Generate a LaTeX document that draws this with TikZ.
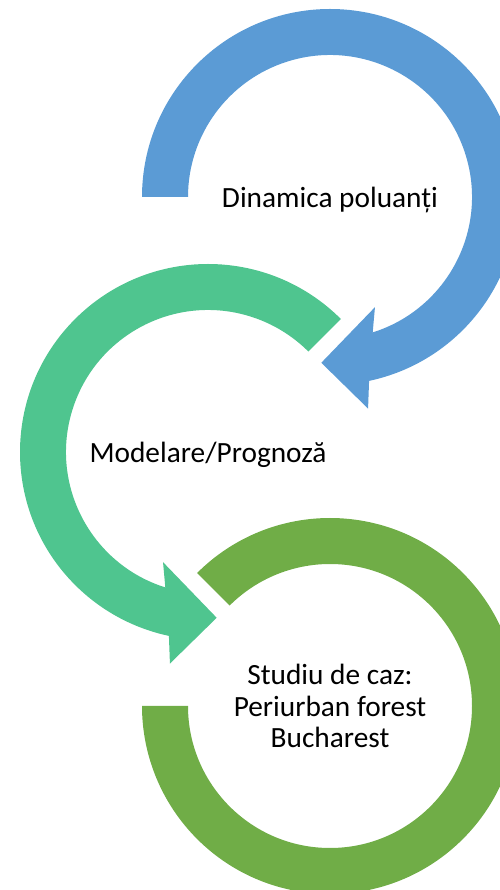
\documentclass[tikz,border=0pt]{standalone}
\usepackage{fontspec}
\setmainfont{Carlito}
\definecolor{arcblue}{HTML}{5B9BD5}
\definecolor{arcteal}{HTML}{4FC58F}
\definecolor{arcgreen}{HTML}{70AD47}
\tikzset{
    steptext/.style={font=\fontsize{22}{23.6}\selectfont, align=center, text=black}
}
\begin{document}
\begin{tikzpicture}[x=0.75pt, y=0.75pt]
    \useasboundingbox (0,0) rectangle (500,890);

    % Ring centres
    \coordinate (C1) at (330,693);
    \coordinate (C2) at (208,438);
    \coordinate (C3) at (330,184);

    % Third ring, open at the top left
    \fill[arcgreen, shift={(C3)}] (135:188) arc[start angle=135, end angle=-180, radius=188]
        -- (-180:142) arc[start angle=-180, end angle=135, radius=142] -- cycle;

    % Second arrow
    \fill[arcteal, shift={(C2)}] (45:188) arc[start angle=45, end angle=258, radius=188]
        -- (259.8:215) -- (273:166) -- (247.8:119) -- (252.5:142)
        arc[start angle=252.5, end angle=45, radius=142] -- cycle;

    % First arrow
    \fill[arcblue, shift={(C1)}] (180:188) arc[start angle=180, end angle=-78, radius=188]
        -- (-79.8:215) -- (-93:166) -- (-67.8:119) -- (-72.5:142)
        arc[start angle=-72.5, end angle=180, radius=142] -- cycle;

    % Labels
    \node[steptext] (dinamica) at (330,690) {Dinamica poluanți};
    \node[steptext] (modelare) at (208,435) {Modelare/Prognoză};
    \node[steptext] (studiu) at (C3) {Studiu de caz:\\Periurban forest\\Bucharest};

\end{tikzpicture}
\end{document}
